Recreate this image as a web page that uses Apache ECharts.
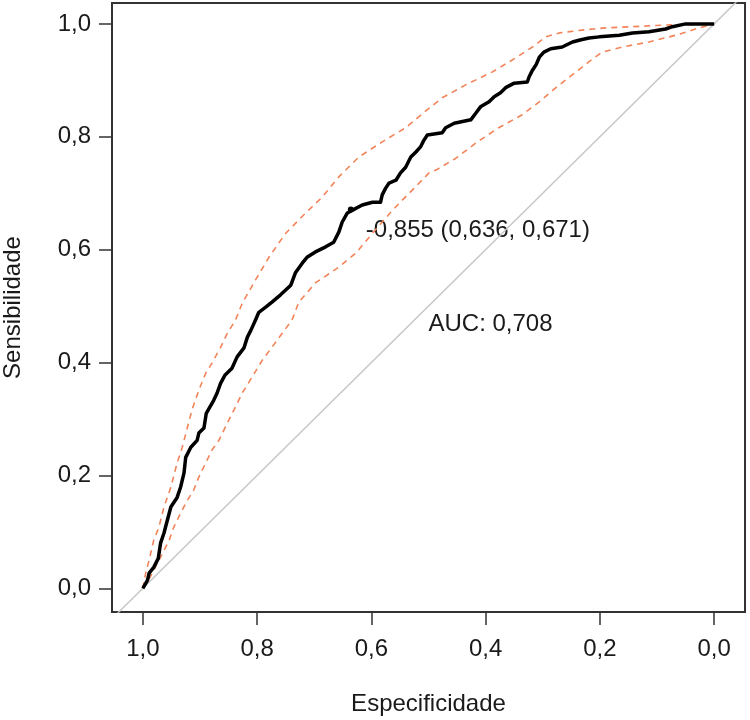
<!DOCTYPE html>
<html>
<head>
<meta charset="utf-8">
<script src="https://cdn.jsdelivr.net/npm/echarts@6/dist/echarts.min.js"></script>
<style>html,body{margin:0;padding:0;background:#fff}#c{width:750px;height:720px}</style>
</head>
<body>
<div id="c"></div>
<script>
// Specificity (x) and sensitivity (y) of the empirical ROC curve
const rocSpec = [1.000,0.992,0.989,0.981,0.973,0.969,0.963,0.957,0.951,0.940,0.934,0.928,0.925,0.916,0.905,0.902,0.893,0.889,0.876,0.870,0.864,0.856,0.844,0.835,0.823,0.817,0.811,0.803,0.797,0.785,0.774,0.759,0.741,0.733,0.721,0.712,0.698,0.680,0.666,0.657,0.651,0.642,0.633,0.616,0.598,0.584,0.581,0.575,0.569,0.557,0.549,0.540,0.531,0.522,0.514,0.508,0.502,0.476,0.470,0.455,0.426,0.417,0.409,0.394,0.385,0.374,0.365,0.350,0.327,0.324,0.318,0.312,0.306,0.298,0.286,0.266,0.248,0.233,0.219,0.201,0.166,0.143,0.114,0.085,0.073,0.050,0.000];
const rocSens = [0.000,0.014,0.027,0.037,0.053,0.080,0.098,0.121,0.144,0.161,0.179,0.204,0.232,0.250,0.262,0.275,0.284,0.310,0.333,0.346,0.363,0.378,0.390,0.410,0.426,0.445,0.457,0.475,0.489,0.498,0.507,0.520,0.537,0.559,0.576,0.587,0.596,0.605,0.613,0.631,0.649,0.665,0.670,0.679,0.684,0.684,0.697,0.709,0.718,0.723,0.736,0.746,0.764,0.773,0.782,0.794,0.803,0.807,0.816,0.824,0.830,0.842,0.853,0.862,0.871,0.878,0.887,0.895,0.897,0.906,0.918,0.927,0.941,0.950,0.956,0.959,0.968,0.972,0.975,0.977,0.980,0.984,0.986,0.991,0.995,1.000,1.000];

// Upper confidence bound
const ciUpSpec = [1.000,0.995,0.989,0.981,0.972,0.963,0.951,0.940,0.931,0.922,0.914,0.902,0.890,0.879,0.864,0.852,0.838,0.826,0.803,0.779,0.750,0.715,0.686,0.657,0.622,0.581,0.540,0.502,0.476,0.435,0.388,0.347,0.318,0.295,0.271,0.231,0.190,0.143,0.085,0.000];
const ciUpSens = [0.000,0.027,0.050,0.085,0.108,0.144,0.179,0.222,0.250,0.285,0.316,0.351,0.381,0.399,0.427,0.452,0.475,0.505,0.546,0.587,0.629,0.665,0.693,0.729,0.764,0.791,0.816,0.848,0.869,0.892,0.915,0.940,0.959,0.977,0.984,0.989,0.993,0.995,0.998,1.000];

// Lower confidence bound
const ciLoSpec = [1.000,0.992,0.981,0.969,0.954,0.946,0.934,0.922,0.911,0.902,0.890,0.879,0.867,0.852,0.838,0.826,0.809,0.791,0.774,0.756,0.739,0.727,0.698,0.657,0.627,0.598,0.563,0.528,0.499,0.487,0.452,0.417,0.377,0.336,0.306,0.277,0.248,0.219,0.196,0.161,0.114,0.067,0.026,0.000];
const ciLoSens = [0.000,0.011,0.032,0.055,0.085,0.108,0.133,0.156,0.174,0.197,0.222,0.245,0.262,0.293,0.321,0.346,0.374,0.404,0.427,0.452,0.475,0.507,0.541,0.569,0.594,0.629,0.670,0.706,0.736,0.741,0.762,0.789,0.816,0.839,0.862,0.887,0.910,0.933,0.950,0.959,0.968,0.980,0.993,1.000];

// Chance diagonal (sensitivity = 1 - specificity)
const diagSpec = [1.2, -0.2];
const diagSens = [-0.2, 1.2];

// Best threshold and AUC
const threshold = { value: -0.855, spec: 0.636, sens: 0.671 };
const auc = { value: 0.708, spec: 0.5, sens: 0.468 };

const tickValues = [0, 0.2, 0.4, 0.6, 0.8, 1.0];
const xTitle = 'Especificidade';
const yTitle = 'Sensibilidade';

const zip = (a, b) => a.map((v, i) => [v, b[i]]);
const fmt = (v) => v.toFixed(1).replace('.', ',');
const fmt3 = (v) => v.toFixed(3).replace('.', ',');
const FONT = "'Liberation Sans', Arial, sans-serif";
const TXT = '#1a1a1a';

const chart = echarts.init(document.getElementById('c'));
chart.setOption({
  animation: false,
  grid: { left: 112, right: 5, top: 3, bottom: 108, containLabel: false, outerBoundsMode: 'none',
    show: true, borderColor: '#333', borderWidth: 2, backgroundColor: '#fff' },
  xAxis: {
    type: 'value', inverse: true, min: -0.054, max: 1.054,
    name: xTitle, nameLocation: 'middle', nameGap: 80,
    nameTextStyle: { fontFamily: FONT, fontSize: 24, color: TXT },
    axisLine: { show: false, onZero: false },
    splitLine: { show: false },
    axisTick: { show: true, inside: false, customValues: tickValues, length: 13, lineStyle: { color: '#333', width: 1.5 } },
    axisLabel: { customValues: tickValues, formatter: fmt, margin: 25, fontFamily: FONT, fontSize: 24, color: TXT }
  },
  yAxis: {
    type: 'value', min: -0.042, max: 1.037,
    name: yTitle, nameLocation: 'middle', nameGap: 87,
    nameTextStyle: { fontFamily: FONT, fontSize: 24, color: TXT },
    axisLine: { show: false, onZero: false },
    splitLine: { show: false },
    axisTick: { show: true, inside: false, customValues: tickValues, length: 13, lineStyle: { color: '#333', width: 1.5 } },
    axisLabel: { customValues: tickValues, formatter: fmt, margin: 21, fontFamily: FONT, fontSize: 24, color: TXT }
  },
  series: [
    { type: 'line', data: zip(diagSpec, diagSens), symbol: 'none', clip: true, silent: true,
      lineStyle: { color: '#c8c8c8', width: 1.5 } },
    { type: 'line', data: zip(ciUpSpec, ciUpSens), symbol: 'none',
      lineStyle: { color: '#f2845a', width: 1.6, type: [6, 5] } },
    { type: 'line', data: zip(ciLoSpec, ciLoSens), symbol: 'none',
      lineStyle: { color: '#f2845a', width: 1.6, type: [6, 5] } },
    { type: 'line', data: zip(rocSpec, rocSens), symbol: 'none',
      lineStyle: { color: '#000', width: 3.5, join: 'round' } },
    { type: 'scatter', data: [[threshold.spec, threshold.sens]], symbolSize: 6, itemStyle: { color: '#000', opacity: 1 },
      label: { show: true, position: 'right', distance: 0, offset: [12, 21],
        formatter: () => fmt3(threshold.value) + ' (' + fmt3(threshold.spec) + ', ' + fmt3(threshold.sens) + ')',
        fontFamily: FONT, fontSize: 24, color: TXT } },
    { type: 'scatter', data: [[auc.spec, auc.sens]], symbolSize: 0, itemStyle: { opacity: 1 },
      label: { show: true, position: 'right', distance: 0,
        formatter: () => 'AUC: ' + fmt3(auc.value),
        fontFamily: FONT, fontSize: 24, color: TXT } }
  ]
});
</script>
</body>
</html>
